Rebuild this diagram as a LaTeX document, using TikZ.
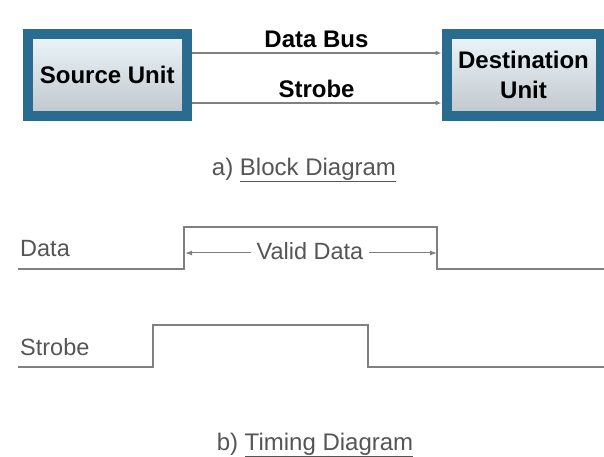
\documentclass[tikz,border=0pt]{standalone}
\usepackage{fontspec}
\setmainfont{Liberation Sans}
\usepackage{xcolor}
\usetikzlibrary{arrows.meta,positioning}

\definecolor{unitblue}{RGB}{42,108,143}
\definecolor{unittop}{RGB}{236,246,250}
\definecolor{unitbot}{RGB}{192,198,204}
\definecolor{wavegray}{RGB}{128,128,128}
\definecolor{textgray}{RGB}{85,85,85}

\begin{document}
\begin{tikzpicture}[
  x=1pt, y=1pt,
  node distance=1.0cm and 250pt,
  unit/.style={draw=unitblue, line width=10pt, top color=unittop, bottom color=unitbot,
               align=center, inner sep=0pt, minimum height=82pt,
               font=\bfseries\fontsize{24}{30}\selectfont},
  busarrow/.style={-{Latex[length=6pt,width=5pt]}, draw=wavegray, line width=1.2pt},
  buslabel/.style={above, inner sep=5pt, font=\bfseries\fontsize{24}{26}\selectfont},
  wave/.style={draw=wavegray, line width=1.6pt},
  siglabel/.style={anchor=west, inner sep=0pt, text=textgray,
                   font=\fontsize{23.5}{26}\selectfont},
  caption/.style={text=textgray, font=\fontsize{24}{26}\selectfont},
  span/.style={-{Latex[length=7pt,width=5pt]}, draw=wavegray, line width=1pt}
]
  \useasboundingbox (0,0) rectangle (604,457);

  % --- block diagram -------------------------------------------------
  \node[unit, minimum width=158.5pt] (src) at (107.25,382) {Source Unit};
  \node[unit, minimum width=154pt, right=of src] (dst) {Destination\\Unit};

  \draw[busarrow] ([yshift=22pt]src.east) -- node[buslabel] {Data Bus} ([yshift=22pt]dst.west);
  \draw[busarrow] ([yshift=-28pt]src.east) -- node[buslabel] {Strobe} ([yshift=-28pt]dst.west);

  \node[caption] (capa) at (304,287) {a) \underline{Block Diagram}};

  % --- timing diagram ------------------------------------------------
  \node[siglabel] (datalbl) at (20,208) {Data};
  \node[siglabel] (strlbl)  at (20,110) {Strobe};

  \coordinate (drise) at (185,204);
  \coordinate (dfall) at (437,204);
  \draw[wave] (18,188) -- (184,188) -- (184,230) -- (437,230) -- (437,188) -- (604,188);
  \draw[wave] (18,90) -- (153,90) -- (153,132) -- (368,132) -- (368,90) -- (604,90);

  \node[text=textgray, font=\fontsize{23.5}{26}\selectfont, inner sep=5pt] (valid) at (310,206) {Valid Data};
  \draw[span] ([yshift=-2pt]valid.west) -- (drise);
  \draw[span] ([yshift=-2pt]valid.east) -- (dfall);

  \node[caption] (capb) at (315,12) {b) \underline{Timing Diagram}};
\end{tikzpicture}
\end{document}
